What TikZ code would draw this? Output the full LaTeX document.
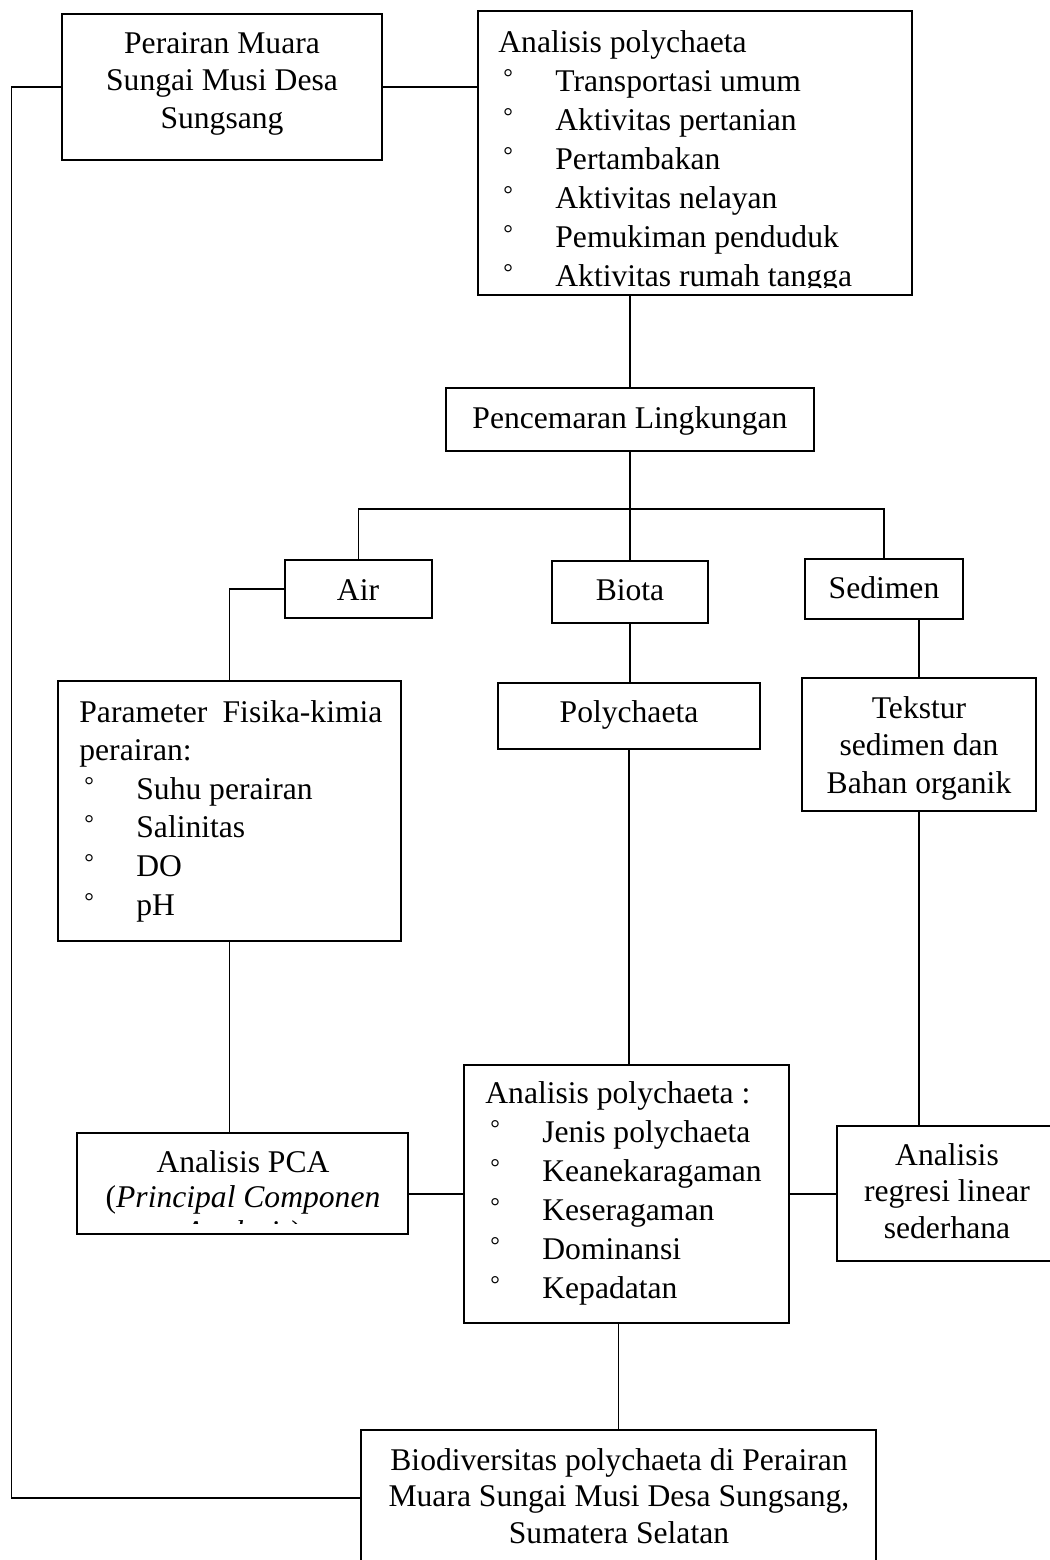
\documentclass[tikz,border=0pt]{standalone}
\usepackage{fontspec}
\setmainfont{Liberation Serif}
\usetikzlibrary{fit}

\newcommand{\itm}[1]{\hspace*{2.5pt}\makebox[26pt][l]{\raisebox{3pt}{\fontsize{12}{12}\selectfont °}}#1}
\newcommand{\ukuran}[1]{\fontsize{15.8}{#1}\selectfont}

\begin{document}
\begin{tikzpicture}[x=0.5pt,y=-0.5pt,
	kotak/.style={draw,line width=0.65pt,inner sep=0pt},
	tulisan/.style={inner sep=0pt,anchor=base},
	garis/.style={line width=0.65pt}]
	\clip (0,0) rectangle (1050,1560);

	% kotak
	\node[kotak,fit={(62,14) (382,160)}] (perairan) {};
	\node[kotak,fit={(478,11) (912,295)}] (atas) {};
	\node[kotak,fit={(446,388) (814,451)}] (pencemaran) {};
	\node[kotak,fit={(285,560) (432,618)}] (air) {};
	\node[kotak,fit={(552,561) (708,623)}] (biota) {};
	\node[kotak,fit={(805,559) (963,619)}] (sedimen) {};
	\node[kotak,fit={(58,681) (401,941)}] (parameter) {};
	\node[kotak,fit={(498,683) (760,749)}] (polychaeta) {};
	\node[kotak,fit={(802,678) (1036,811)}] (tekstur) {};
	\node[kotak,fit={(77,1133) (408,1234)}] (pca) {};
	\node[kotak,fit={(464,1065) (789,1323)}] (analisis) {};
	\node[kotak,fit={(837,1126) (1057,1261)}] (regresi) {};
	\node[kotak,fit={(361,1430) (876,1566)}] (bio) {};

	% tulisan
	\node[tulisan] (t-perairan) at (222,53) {\ukuran{18.75pt}\begin{tabular}[t]{@{}c@{}}Perairan Muara\\Sungai Musi Desa\\Sungsang\end{tabular}};
	\begin{scope}
		\clip (478,11) rectangle (912,287);
		\node[tulisan,anchor=base west] (t-atas) at (498,52) {\ukuran{19.5pt}\begin{tabular}[t]{@{}l@{}}Analisis polychaeta\\
			\itm{Transportasi umum}\\
			\itm{Aktivitas pertanian}\\
			\itm{Pertambakan}\\
			\itm{Aktivitas nelayan}\\
			\itm{Pemukiman penduduk}\\
			\itm{Aktivitas rumah tangga}\end{tabular}};
	\end{scope}
	\node[tulisan] (t-pencemaran) at (630,428) {\ukuran{19pt}Pencemaran Lingkungan};
	\node[tulisan] (t-air) at (358,600) {\ukuran{19pt}Air};
	\node[tulisan] (t-biota) at (630,600) {\ukuran{19pt}Biota};
	\node[tulisan] (t-sedimen) at (884,598) {\ukuran{19pt}Sedimen};
	\node[tulisan,anchor=base west] (t-parameter) at (79,722) {\ukuran{19.3pt}\begin{tabular}[t]{@{}l@{}}\makebox[151.5pt][s]{Parameter Fisika-kimia}\\perairan:\\
		\itm{Suhu perairan}\\
		\itm{Salinitas}\\
		\itm{DO}\\
		\itm{pH}\end{tabular}};
	\node[tulisan] (t-polychaeta) at (629,722) {\ukuran{19pt}Polychaeta};
	\node[tulisan] (t-tekstur) at (919,718) {\ukuran{18.75pt}\begin{tabular}[t]{@{}c@{}}Tekstur\\sedimen dan\\Bahan organik\end{tabular}};
	\begin{scope}
		\clip (77,1133) rectangle (408,1223);
		\node[tulisan] (t-pca) at (243,1172) {\ukuran{17.5pt}\begin{tabular}[t]{@{}c@{}}Analisis PCA\\(\textit{Principal Componen}\\\textit{Analysis})\end{tabular}};
	\end{scope}
	\node[tulisan,anchor=base west] (t-analisis) at (485,1103) {\ukuran{19.5pt}\begin{tabular}[t]{@{}l@{}}Analisis polychaeta :\\
		\itm{Jenis polychaeta}\\
		\itm{Keanekaragaman}\\
		\itm{Keseragaman}\\
		\itm{Dominansi}\\
		\itm{Kepadatan}\end{tabular}};
	\node[tulisan] (t-regresi) at (947,1165) {\ukuran{18.25pt}\begin{tabular}[t]{@{}c@{}}Analisis\\regresi linear\\sederhana\end{tabular}};
	\node[tulisan] (t-bio) at (619,1470) {\ukuran{18.25pt}\begin{tabular}[t]{@{}c@{}}Biodiversitas polychaeta di Perairan\\Muara Sungai Musi Desa Sungsang,\\Sumatera Selatan\end{tabular}};

	% garis penghubung
	\coordinate (bus) at (630,509);
	\draw[garis] (perairan.east) -- (perairan.east -| atas.west);
	\draw[garis] (perairan.west) -- ++(-50,0) |- (bio.west);
	\draw[garis] (atas.south -| pencemaran.north) -- (pencemaran.north);
	\draw[garis] (pencemaran.south) -- (biota.north);
	\draw[garis] (air.north) |- (bus) -| (sedimen.north);
	\draw[garis] (air.west) -| (parameter.north);
	\draw[garis] (biota.south) -- (biota.south |- polychaeta.north);
	\draw[garis] (sedimen.south -| tekstur.north) -- (tekstur.north);
	\draw[garis] (parameter.south) -- (parameter.south |- pca.north);
	\draw[garis] (polychaeta.south) -- (polychaeta.south |- analisis.north);
	\draw[garis] (tekstur.south) -- (tekstur.south |- regresi.north);
	\draw[garis] (analisis.west) -- (analisis.west -| pca.east);
	\draw[garis] (analisis.east) -- (analisis.east -| regresi.west);
	\draw[garis] (analisis.south -| bio.north) -- (bio.north);
\end{tikzpicture}
\end{document}
